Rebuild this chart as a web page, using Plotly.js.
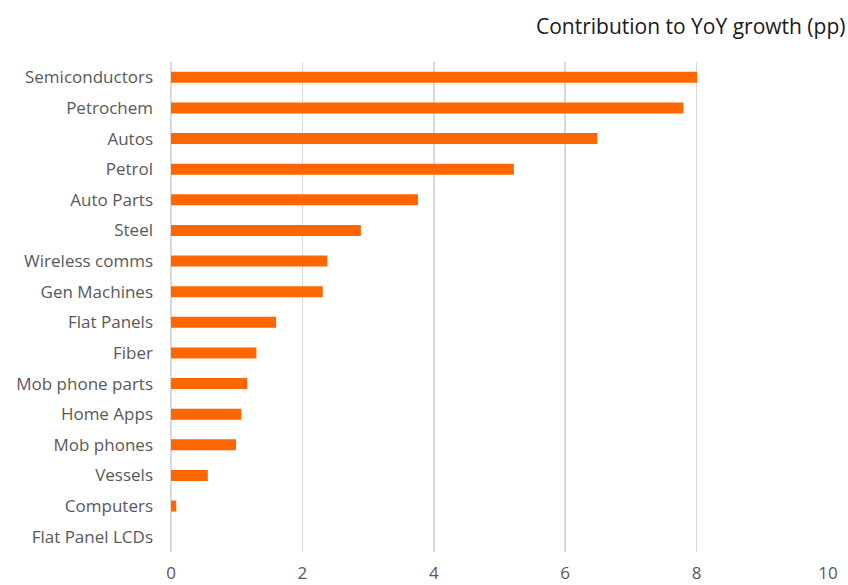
<!DOCTYPE html>
<html>
<head>
<meta charset="utf-8">
<script src="https://cdn.plot.ly/plotly-3.0.1.min.js"></script>
<style>html,body{margin:0;padding:0;background:#fff;}#chart{width:848px;height:585px;}</style>
</head>
<body>
<div id="chart"></div>
<script>
const categories = ["Semiconductors","Petrochem","Autos","Petrol","Auto Parts","Steel","Wireless comms","Gen Machines","Flat Panels","Fiber","Mob phone parts","Home Apps","Mob phones","Vessels","Computers","Flat Panel LCDs"];
const values = [8.01, 7.80, 6.49, 5.22, 3.76, 2.89, 2.38, 2.31, 1.60, 1.30, 1.16, 1.07, 0.99, 0.56, 0.08, 0.0];
const xTicks = [0, 2, 4, 6, 8, 10];
const chartTitle = "Contribution to YoY growth (pp)";

const font = "Open Sans, Noto Sans, sans-serif";
const trace = {
  type: "bar",
  orientation: "h",
  y: categories,
  x: values,
  marker: {color: "#ff6600"},
  hoverinfo: "x+y"
};
const layout = {
  width: 848, height: 585,
  margin: {l: 171, r: 20, t: 62, b: 33},
  paper_bgcolor: "#fff", plot_bgcolor: "#fff",
  bargap: 0.64,
  showlegend: false,
  font: {family: font, color: "#595959", size: 17},
  title: {
    text: chartTitle,
    font: {family: font, size: 21, color: "#1a1a1a"},
    xref: "container", x: 0.997, xanchor: "right",
    yref: "container", y: 0.955, yanchor: "middle"
  },
  xaxis: {
    range: [0, 10],
    tickvals: xTicks,
    ticktext: xTicks.map(String),
    showgrid: true, gridcolor: "#d9d9d9", gridwidth: 1.5,
    zeroline: true, zerolinecolor: "#d9d9d9", zerolinewidth: 1.5,
    showline: false, ticks: "",
    tickfont: {size: 17, color: "#595959"},
    ticklabelstandoff: 9,
    fixedrange: true
  },
  yaxis: {
    autorange: "reversed",
    showgrid: false, zeroline: false, showline: false, ticks: "",
    tickfont: {size: 17, color: "#595959"},
    ticklabelstandoff: 17,
    fixedrange: true
  }
};
Plotly.newPlot("chart", [trace], layout, {displayModeBar: false, staticPlot: true});
</script>
</body>
</html>
